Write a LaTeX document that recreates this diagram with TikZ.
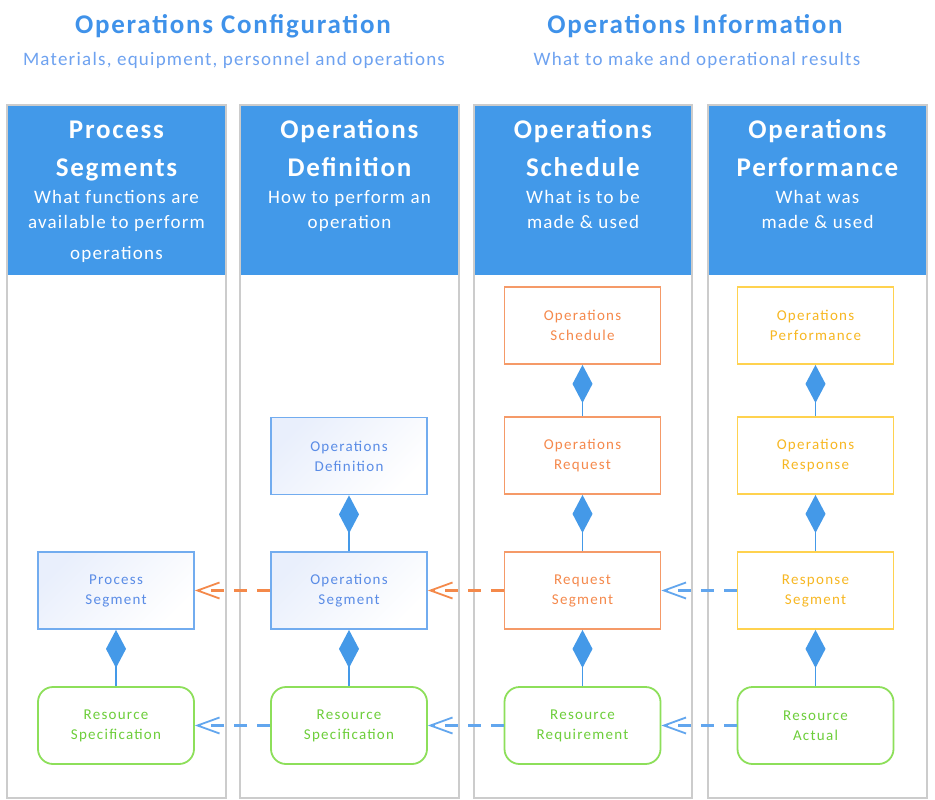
\documentclass[tikz,border=0pt]{standalone}
\usepackage{fontspec}
\setmainfont{Carlito}
\newfontfamily\wfont[LetterSpace=6.5]{Carlito}
\newfontfamily\bxfont[LetterSpace=8.5]{Carlito}
\usetikzlibrary{arrows.meta}
\definecolor{hdrblue}{HTML}{4299E9}
\definecolor{titleblue}{HTML}{3F92EA}
\definecolor{subblue}{HTML}{6EA2F0}
\definecolor{colgray}{HTML}{CCCCCC}
\definecolor{bbord}{HTML}{72ACEF}
\definecolor{btext}{HTML}{5A8CE6}
\definecolor{bfill}{HTML}{E9EFFC}
\definecolor{obord}{HTML}{F59A68}
\definecolor{otext}{HTML}{F5894C}
\definecolor{ybord}{HTML}{FFD24F}
\definecolor{ytext}{HTML}{F7B722}
\definecolor{gbord}{HTML}{8DDF5A}
\definecolor{gtext}{HTML}{6DCE3A}
\definecolor{conblue}{HTML}{4499E8}
\definecolor{dorange}{HTML}{F4894A}
\definecolor{dblue}{HTML}{62A6EE}
\begin{document}
\begin{tikzpicture}[x=1pt,y=-1pt,
  colbox/.style={draw=colgray, line width=2pt, fill=white},
  bigtitle/.style={text=titleblue, font=\wfont\bfseries\fontsize{27}{30}\selectfont, anchor=base, inner sep=0pt},
  bigsub/.style={text=subblue, font=\wfont\fontsize{19}{22}\selectfont, anchor=base, inner sep=0pt},
  ttl/.style={text=white, font=\wfont\bfseries\fontsize{27}{30}\selectfont, anchor=base, inner sep=0pt},
  sub/.style={text=white, font=\wfont\fontsize{19}{22}\selectfont, anchor=base, inner sep=0pt},
  box/.style={minimum width=156pt, minimum height=77pt, align=center, line width=1.8pt, font=\bxfont\fontsize{15}{20}\selectfont, inner sep=0pt},
  bluebox/.style={box, draw=bbord, text=btext, top color=bfill, bottom color=white, shading angle=45},
  orangebox/.style={box, draw=obord, text=otext, fill=white},
  yellowbox/.style={box, draw=ybord, text=ytext, fill=white},
  greenbox/.style={box, draw=gbord, text=gtext, fill=white, rounded corners=15pt},
  comp/.style={draw=conblue, line width=1.8pt, -{Diamond[length=38pt,width=20pt]}},
  dep/.style={line width=2.3pt, dash pattern=on 13pt off 10pt, -{Straight Barb[length=22pt,width=16pt,line width=1.8pt]}},
]
\useasboundingbox (0,0) rectangle (935,800);
\fill[white] (0,0) rectangle (935,800);

% page titles
\node[bigtitle] (tcfg) at (233,34) {Operations Configuration};
\node[bigsub] (scfg) at (234,66) {Materials, equipment, personnel and operations};
\node[bigtitle] (tinf) at (695,34) {Operations Information};
\node[bigsub] (sinf) at (697,66) {What to make and operational results};

% columns
\draw[colbox] (7,105) rectangle (226,798);
\draw[colbox] (240,105) rectangle (459,798);
\draw[colbox] (474,105) rectangle (692,798);
\draw[colbox] (708,105) rectangle (927,798);
\fill[hdrblue] (8,106) rectangle (225,275);
\fill[hdrblue] (241,106) rectangle (458,275);
\fill[hdrblue] (475,106) rectangle (691,275);
\fill[hdrblue] (709,106) rectangle (926,275);

% header texts
\node[ttl] (h1a) at (116.5,139) {Process};
\node[ttl] (h1b) at (116.5,176) {Segments};
\node[sub] (h1c) at (116.5,203.5) {What functions are};
\node[sub] (h1d) at (116.5,228.5) {available to perform};
\node[sub] (h1e) at (116.5,259.5) {operations};

\node[ttl] (h2a) at (349.5,139) {Operations};
\node[ttl] (h2b) at (349.5,176) {Definition};
\node[sub] (h2c) at (349.5,203.5) {How to perform an};
\node[sub] (h2d) at (349.5,228.5) {operation};

\node[ttl] (h3a) at (583,139) {Operations};
\node[ttl] (h3b) at (583,176) {Schedule};
\node[sub] (h3c) at (583,203.5) {What is to be};
\node[sub] (h3d) at (583,228.5) {made \& used};

\node[ttl] (h4a) at (817.5,139) {Operations};
\node[ttl] (h4b) at (817.5,176) {Performance};
\node[sub] (h4c) at (817.5,203.5) {What was};
\node[sub] (h4d) at (817.5,228.5) {made \& used};

% boxes
\node[bluebox] (ps) at (116,590.5) {Process\\Segment};
\node[greenbox] (rs1) at (116,725.5) {Resource\\Specification};
\node[bluebox] (od) at (349,456) {Operations\\Definition};
\node[bluebox] (os) at (349,590.5) {Operations\\Segment};
\node[greenbox] (rs2) at (349,725.5) {Resource\\Specification};
\node[orangebox] (osch) at (582.5,325.5) {Operations\\Schedule};
\node[orangebox] (oreq) at (582.5,455.5) {Operations\\Request};
\node[orangebox] (rseg) at (582.5,590.5) {Request\\Segment};
\node[greenbox] (rreq) at (582.5,725.5) {Resource\\Requirement};
\node[yellowbox] (operf) at (815.5,325.5) {Operations\\Performance};
\node[yellowbox] (oresp) at (815.5,455.5) {Operations\\Response};
\node[yellowbox] (respseg) at (815.5,590.5) {Response\\Segment};
\node[greenbox] (ract) at (815.5,725.5) {Resource\\Actual};

% composition
\draw[comp] (rs1) -- (ps);
\draw[comp] (os) -- (od);
\draw[comp] (rs2) -- (os);
\draw[comp] (oreq) -- (osch);
\draw[comp] (rseg) -- (oreq);
\draw[comp] (rreq) -- (rseg);
\draw[comp] (oresp) -- (operf);
\draw[comp] (respseg) -- (oresp);
\draw[comp] (ract) -- (respseg);

% dependencies
\draw[dep, draw=dorange] (os) -- (ps);
\draw[dep, draw=dorange] (rseg) -- (os);
\draw[dep, draw=dblue] (respseg) -- (rseg);
\draw[dep, draw=dblue] (rs2) -- (rs1);
\draw[dep, draw=dblue] (rreq) -- (rs2);
\draw[dep, draw=dblue] (ract) -- (rreq);
\end{tikzpicture}
\end{document}
